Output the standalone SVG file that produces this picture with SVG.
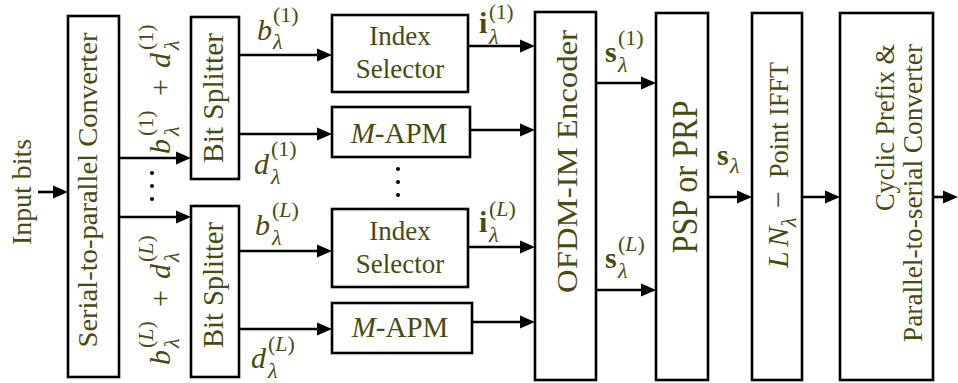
<svg xmlns="http://www.w3.org/2000/svg" width="958" height="383" viewBox="0 0 958 383">
<defs>
<marker id="ah" markerUnits="userSpaceOnUse" markerWidth="16" markerHeight="14" refX="10" refY="7" orient="auto"><path d="M0,0.5 L15,7 L0,13.5 z" fill="#000"/></marker>
<style>
.box{fill:#fff;stroke:#000;stroke-width:2.6}
.t{font-family:"Liberation Serif","Times New Roman",serif;fill:#4a4a10}
.c{text-anchor:middle}
.e{text-anchor:end}
.i{font-style:italic}
.b{font-weight:bold}
.mm{font-size:30px}
.sc{font-size:22px}
.n27{font-size:27px}
.conn line{stroke:#000;stroke-width:2.6;marker-end:url(#ah)}
.dot{fill:#000}
</style>
</defs>
<rect width="958" height="383" fill="#fff"/>

<g id="connectors" class="conn">
<line x1="38" y1="192" x2="63" y2="192"/>
<line x1="119" y1="158" x2="186" y2="158"/>
<line x1="119" y1="217" x2="186" y2="217"/>
<line x1="239" y1="55" x2="327" y2="55"/>
<line x1="239" y1="134" x2="327" y2="134"/>
<line x1="239" y1="251" x2="327" y2="251"/>
<line x1="239" y1="329" x2="327" y2="329"/>
<line x1="468" y1="46" x2="530" y2="46"/>
<line x1="470" y1="130" x2="530" y2="130"/>
<line x1="468" y1="247" x2="530" y2="247"/>
<line x1="472" y1="322" x2="530" y2="322"/>
<line x1="596" y1="83" x2="651" y2="83"/>
<line x1="596" y1="290" x2="651" y2="290"/>
<line x1="708" y1="197" x2="747" y2="197"/>
<line x1="802" y1="197" x2="835" y2="197"/>
<line x1="933" y1="197" x2="953" y2="197"/>
</g>

<g id="input-bits">
<text class="t c" font-size="27" transform="translate(31,192) rotate(-90)" textLength="106" lengthAdjust="spacingAndGlyphs">Input bits</text>
</g>

<g id="sp-converter">
<rect class="box" x="68" y="16" width="51" height="361"/>
<text class="t c" font-size="28" transform="translate(97,190) rotate(-90)" textLength="315" lengthAdjust="spacingAndGlyphs">Serial-to-parallel Converter</text>
</g>

<g id="bit-splitter-1">
<rect class="box" x="191" y="17" width="48" height="162"/>
<text class="t c" font-size="30" transform="translate(223,98) rotate(-90)" textLength="130" lengthAdjust="spacingAndGlyphs">Bit Splitter</text>
</g>

<g id="bit-splitter-L">
<rect class="box" x="191" y="206" width="48" height="171"/>
<text class="t c" font-size="30" transform="translate(223,285) rotate(-90)" textLength="126" lengthAdjust="spacingAndGlyphs">Bit Splitter</text>
</g>

<g id="index-selector-1">
<rect class="box" x="332" y="15" width="136" height="77"/>
<text class="t c n27" x="400" y="45">Index</text>
<text class="t c n27" x="400" y="78">Selector</text>
</g>

<g id="m-apm-1">
<rect class="box" x="332" y="107" width="138" height="50"/>
<text class="t c" font-size="29" x="399" y="143"><tspan class="i">M</tspan>-APM</text>
</g>

<g id="index-selector-L">
<rect class="box" x="332" y="209" width="136" height="78"/>
<text class="t c n27" x="400" y="240">Index</text>
<text class="t c n27" x="400" y="273">Selector</text>
</g>

<g id="m-apm-L">
<rect class="box" x="332" y="303" width="140" height="50"/>
<text class="t c" font-size="29" x="400" y="337"><tspan class="i">M</tspan>-APM</text>
</g>

<g id="ofdm-im-encoder">
<rect class="box" x="535" y="12" width="61" height="368"/>
<text class="t c" font-size="30" transform="translate(577,161.5) rotate(-90)" textLength="263" lengthAdjust="spacingAndGlyphs">OFDM-IM Encoder</text>
</g>

<g id="psp-prp">
<rect class="box" x="656" y="13" width="52" height="367"/>
<text class="t c" font-size="36" transform="translate(697,177) rotate(-90)" textLength="153" lengthAdjust="spacingAndGlyphs">PSP or PRP</text>
</g>

<g id="ifft">
<rect class="box" x="752" y="13" width="50" height="367"/>
<g transform="translate(788,268) rotate(-90)">
<text class="t i mm" x="0" y="0">L</text>
<text class="t i mm" x="21" y="0">N</text>
<text class="t i sc" x="41" y="8">λ</text>
<text class="t mm" x="60" y="0">−</text>
<text class="t" font-size="28" x="90" y="0" textLength="116" lengthAdjust="spacingAndGlyphs">Point IFFT</text>
</g>
</g>

<g id="cp-ps-converter">
<rect class="box" x="840" y="13" width="93" height="367"/>
<text class="t e" font-size="28" transform="translate(894,44) rotate(-90)" textLength="167" lengthAdjust="spacingAndGlyphs">Cyclic Prefix &amp;</text>
<text class="t e" font-size="28" transform="translate(922,44) rotate(-90)" textLength="298" lengthAdjust="spacingAndGlyphs">Parallel-to-serial Converter</text>
</g>

<g id="labels">
<g transform="translate(170,160) rotate(-90)">
<text class="t i mm" x="6" y="0">b</text>
<text class="t sc" x="24" y="-17">(1)</text>
<text class="t i sc" x="24" y="9">λ</text>
<text class="t mm" x="64" y="0">+</text>
<text class="t i mm" x="92" y="0">d</text>
<text class="t sc" x="110" y="-17">(1)</text>
<text class="t i sc" x="110" y="9">λ</text>
</g>
<g transform="translate(170,367) rotate(-90)">
<text class="t i mm" x="2" y="0">b</text>
<text class="t sc" x="19" y="-17">(<tspan class="i">L</tspan>)</text>
<text class="t i sc" x="19" y="9">λ</text>
<text class="t mm" x="60" y="0">+</text>
<text class="t i mm" x="88" y="0">d</text>
<text class="t sc" x="105" y="-17">(<tspan class="i">L</tspan>)</text>
<text class="t i sc" x="105" y="9">λ</text>
</g>

<text class="t i mm" x="257" y="40">b</text>
<text class="t sc" x="273" y="22">(1)</text>
<text class="t i sc" x="273" y="49">λ</text>

<text class="t i mm" x="254" y="174">d</text>
<text class="t sc" x="271" y="156">(1)</text>
<text class="t i sc" x="271" y="184">λ</text>

<text class="t i mm" x="255" y="235">b</text>
<text class="t sc" x="272" y="217">(<tspan class="i">L</tspan>)</text>
<text class="t i sc" x="272" y="245">λ</text>

<text class="t i mm" x="251" y="368">d</text>
<text class="t sc" x="268" y="351">(<tspan class="i">L</tspan>)</text>
<text class="t i sc" x="268" y="378">λ</text>

<text class="t b mm" x="479" y="33">i</text>
<text class="t" font-size="21" x="489" y="19">(1)</text>
<text class="t i sc" x="489" y="44">λ</text>

<text class="t b mm" x="479" y="232">i</text>
<text class="t sc" x="489" y="216">(<tspan class="i">L</tspan>)</text>
<text class="t i sc" x="489" y="242">λ</text>

<text class="t b mm" x="605" y="62">s</text>
<text class="t sc" x="618" y="45">(1)</text>
<text class="t i sc" x="618" y="72">λ</text>

<text class="t b mm" x="605" y="268">s</text>
<text class="t sc" x="618" y="251">(<tspan class="i">L</tspan>)</text>
<text class="t i sc" x="618" y="278">λ</text>

<text class="t b mm" x="717" y="165">s</text>
<text class="t i sc" x="730" y="173">λ</text>
</g>

<g id="ellipses">
<circle class="dot" cx="152" cy="173" r="2"/>
<circle class="dot" cx="152" cy="186" r="2"/>
<circle class="dot" cx="152" cy="199" r="2"/>
<circle class="dot" cx="398" cy="169" r="2"/>
<circle class="dot" cx="398" cy="182" r="2"/>
<circle class="dot" cx="398" cy="195" r="2"/>
</g>
</svg>
